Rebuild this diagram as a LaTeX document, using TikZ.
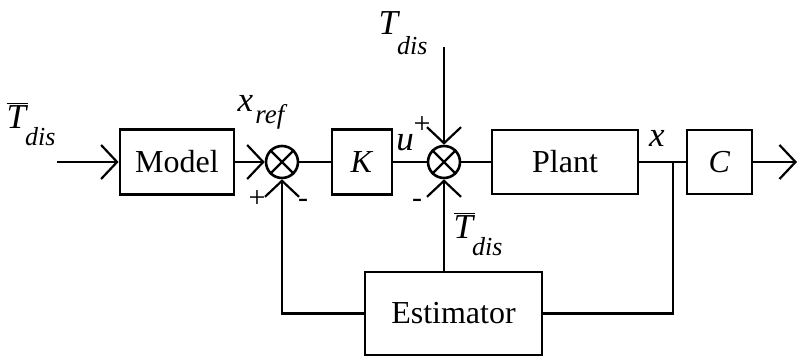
\documentclass[tikz,border=0pt]{standalone}
\usepackage{fontspec}
\setmainfont{Liberation Serif}
\usetikzlibrary{arrows.meta}

% disturbance labels, subscript set low as in the drawing
\newcommand{\lowsub}[2]{#1\kern-1.5pt\raisebox{-#2}{\fontsize{13}{14}\selectfont\itshape dis}}
\newcommand{\tdis}{\lowsub{\textit{T}}{10pt}}
\newcommand{\tdisbar}{\lowsub{$\overline{\hbox{\textit{T}}}$}{8.5pt}}

\tikzset{
  block/.style={draw, line width=1.4pt, inner sep=0pt, font=\fontsize{16}{18}\selectfont},
  junction/.style={draw, circle, line width=1.3pt, minimum size=16pt, inner sep=0pt},
  sig/.style={line width=1.2pt},
  barb/.style={sig, -{Straight Barb[length=8pt, width=17pt, line width=1.1pt]}},
  lbl/.style={inner sep=0pt, font=\fontsize{17.5}{19}\selectfont},
  sign/.style={inner sep=0pt, font=\fontsize{15}{16}\selectfont},
}

\begin{document}
\begin{tikzpicture}[x=0.5pt, y=-0.5pt]
    \useasboundingbox (0,0) rectangle (797,357);

    % Forward path
    \coordinate (in) at (57,162);
    \node[block, minimum width=57pt, minimum height=32.5pt] (model) at (177,162) {Model};
    \node[junction] (s1) at (282,162) {};
    \node[block, minimum width=30pt, minimum height=32.5pt] (k) at (362,162) {\textit{K}};
    \node[junction] (s2) at (444,162) {};
    \node[block, minimum width=73pt, minimum height=32pt] (plant) at (565,162) {Plant};
    \node[block, minimum width=32.5pt, minimum height=32pt] (c) at (719.5,162) {\textit{C}};
    \coordinate (out) at (797,162);
    \coordinate (br) at (673,162);
    \coordinate (dtop) at (444,47);

    % Feedback
    \node[block, minimum width=88.5pt, minimum height=41.5pt] (est) at (453.5,313.5) {Estimator};

    % Crosses in the summing points
    \foreach \s in {s1,s2}
        \draw[line width=1.1pt] (\s.north west) -- (\s.south east) (\s.north east) -- (\s.south west);

    % Connectors
    \draw[barb] (in) -- (model.west);
    \draw[barb] (model.east) -- (s1.west);
    \draw[sig] (s1.east) -- (k.west);
    \draw[sig] (k.east) -- (s2.west);
    \draw[sig] (s2.east) -- (plant.west);
    \draw[sig] (plant.east) -- (c.west);
    \draw[barb] (c.east) -- (out);
    \draw[barb] (dtop) -- (s2.north);
    \draw[sig] (br) |- (est.east);
    \draw[barb] (est.west) -| (s1.south);
    \draw[barb] (s2 |- est.north) -- (s2.south);

    % Labels
    \node[lbl] (tdin) at (31,124) {\tdisbar};
    \node[lbl] (tdtop) at (403,33) {\tdis};
    \node[lbl] (tdbot) at (478,234) {\tdisbar};
    \node[lbl] (xref) at (261,112) {\textit{x}\kern1pt\raisebox{-6pt}{\fontsize{13.5}{14}\selectfont\itshape ref}};
    \node[lbl] (ulbl) at (405,143) {\textit{u}};
    \node[lbl] (xlbl) at (657,138) {\textit{x}};
    \node[sign] (p1) at (257,199) {+};
    \node[sign] (m1) at (303,203) {-};
    \node[sign] (p2) at (422,125) {+};
    \node[sign] (m2) at (417,203) {-};
\end{tikzpicture}
\end{document}
